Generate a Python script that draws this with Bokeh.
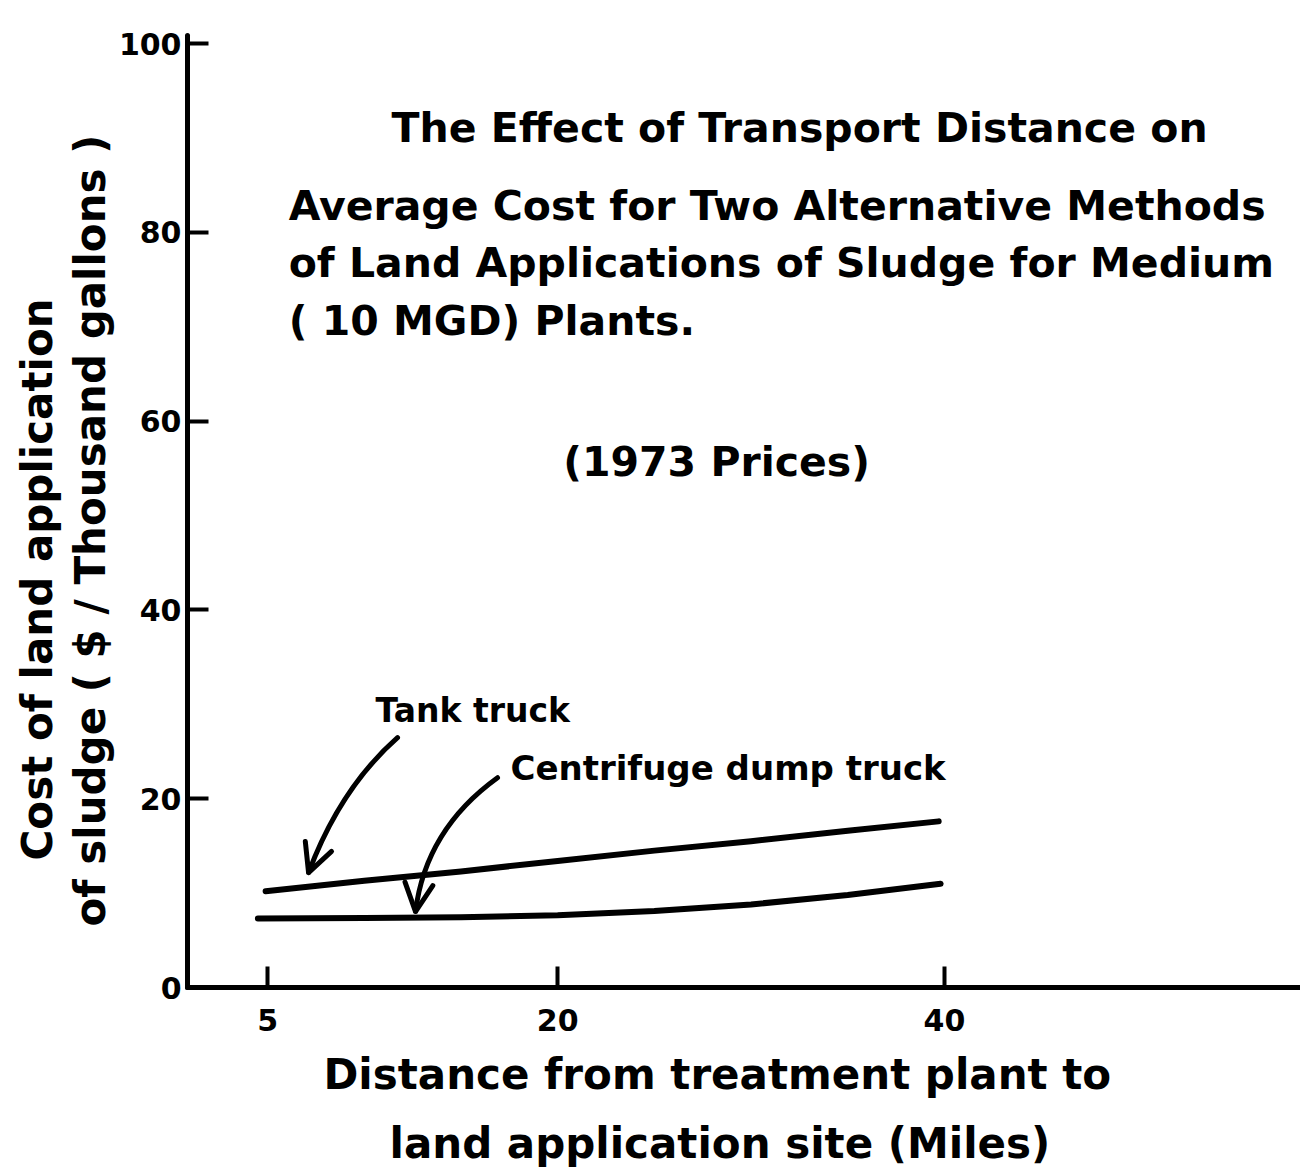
from math import pi
from bokeh.plotting import figure
from bokeh.models import Range1d, FixedTicker, Label, Arrow, OpenHead, Title
from bokeh.embed import file_html
from bokeh.resources import INLINE

# ---- data ----
x_ticks = [5, 20, 40]
y_ticks = [0, 20, 40, 60, 80, 100]

tank_miles = [4.9, 10, 15, 20, 25, 30, 35, 39.7]
tank_cost = [10.2, 11.3, 12.3, 13.4, 14.5, 15.5, 16.6, 17.6]

cent_miles = [4.5, 10, 15, 20, 25, 30, 35, 39.8]
cent_cost = [7.3, 7.35, 7.45, 7.65, 8.1, 8.8, 9.8, 11.0]

title_lines = [
    "The Effect of Transport Distance on",
    "Average Cost for Two Alternative Methods",
    "of Land Applications of Sludge for Medium",
    "( 10 MGD) Plants.",
]
price_note = "(1973 Prices)"
y_label_lines = ["Cost of land application", "of sludge ( $ / Thousand gallons )"]
x_label_lines = ["Distance from treatment plant to", "land application site (Miles)"]
tank_name = "Tank truck"
cent_name = "Centrifuge dump truck"

FONT = "DejaVu Sans"
INK = "black"

p = figure(width=1300, height=1172, output_backend="svg", toolbar_location=None,
           x_range=Range1d(0.86, 58.41), y_range=Range1d(0, 100.85),
           min_border_left=187, min_border_right=0, min_border_top=35,
           min_border_bottom=184)
p.outline_line_color = None
p.grid.visible = False

for ax, ticks in ((p.xaxis, x_ticks), (p.yaxis, y_ticks)):
    ax.ticker = FixedTicker(ticks=ticks)
    ax.axis_line_width = 5
    ax.axis_line_color = INK
    ax.axis_line_cap = "round"
    ax.major_tick_in = 21
    ax.major_tick_out = 0
    ax.minor_tick_line_color = None
    ax.major_tick_line_width = 4
    ax.major_tick_line_color = INK
    ax.major_label_text_font = FONT
    ax.major_label_text_font_style = "bold"
    ax.major_label_text_font_size = "30px"
    ax.major_label_text_color = INK
p.xaxis.major_label_standoff = 21
p.yaxis.major_label_standoff = 6

# axis titles as stacked side titles
for txt, off in ((y_label_lines[1], 61), (y_label_lines[0], 127)):
    p.add_layout(Title(text=txt, align="left", offset=off, standoff=2,
                       text_font=FONT, text_font_style="bold", text_font_size="42px",
                       text_color=INK), "left")
for txt, off, so in ((x_label_lines[0], 136, 28), (x_label_lines[1], 202, 9)):
    p.add_layout(Title(text=txt, align="left", offset=off, standoff=so,
                       text_font=FONT, text_font_style="bold", text_font_size="42px",
                       text_color=INK), "below")

# curves
p.line(tank_miles, tank_cost, line_width=6, line_color=INK, line_cap="round", line_join="round")
p.line(cent_miles, cent_cost, line_width=6, line_color=INK, line_cap="round", line_join="round")

# curved pointer arrows (start, control, tip) in data units
arrows = [
    (11.72, 26.46, 8.77, 21.16, 7.12, 12.17),
    (16.89, 22.22, 13.17, 16.72, 12.65, 8.04),
]
for x0, y0, cx, cy, x1, y1 in arrows:
    p.quadratic(x0=[x0], y0=[y0], x1=[x1], y1=[y1], cx=[cx], cy=[cy],
                line_width=5, line_color=INK, line_cap="round")
    p.add_layout(Arrow(x_start=cx, y_start=cy, x_end=x1, y_end=y1, line_alpha=0,
                       end=OpenHead(size=28, line_width=5, line_color=INK, line_cap="round")))

def lab(text, x, y, size, align="left"):
    p.add_layout(Label(x=x, y=y, text=text, text_font=FONT, text_font_style="bold",
                       text_font_size=size, text_color=INK, text_align=align,
                       text_baseline="alphabetic"))

# title block
lab(title_lines[0], 32.51, 91.0, "41px", "center")
lab(title_lines[1], 6.09, 82.8, "41px")
lab(title_lines[2], 6.09, 76.75, "41px")
lab(title_lines[3], 6.09, 70.6, "41px")
lab(price_note, 28.22, 55.65, "41px", "center")

# curve annotations
lab(tank_name, 10.58, 29.3, "33px")
lab(cent_name, 17.56, 23.3, "34px")

open("out.html", "w").write(file_html(p, INLINE))
